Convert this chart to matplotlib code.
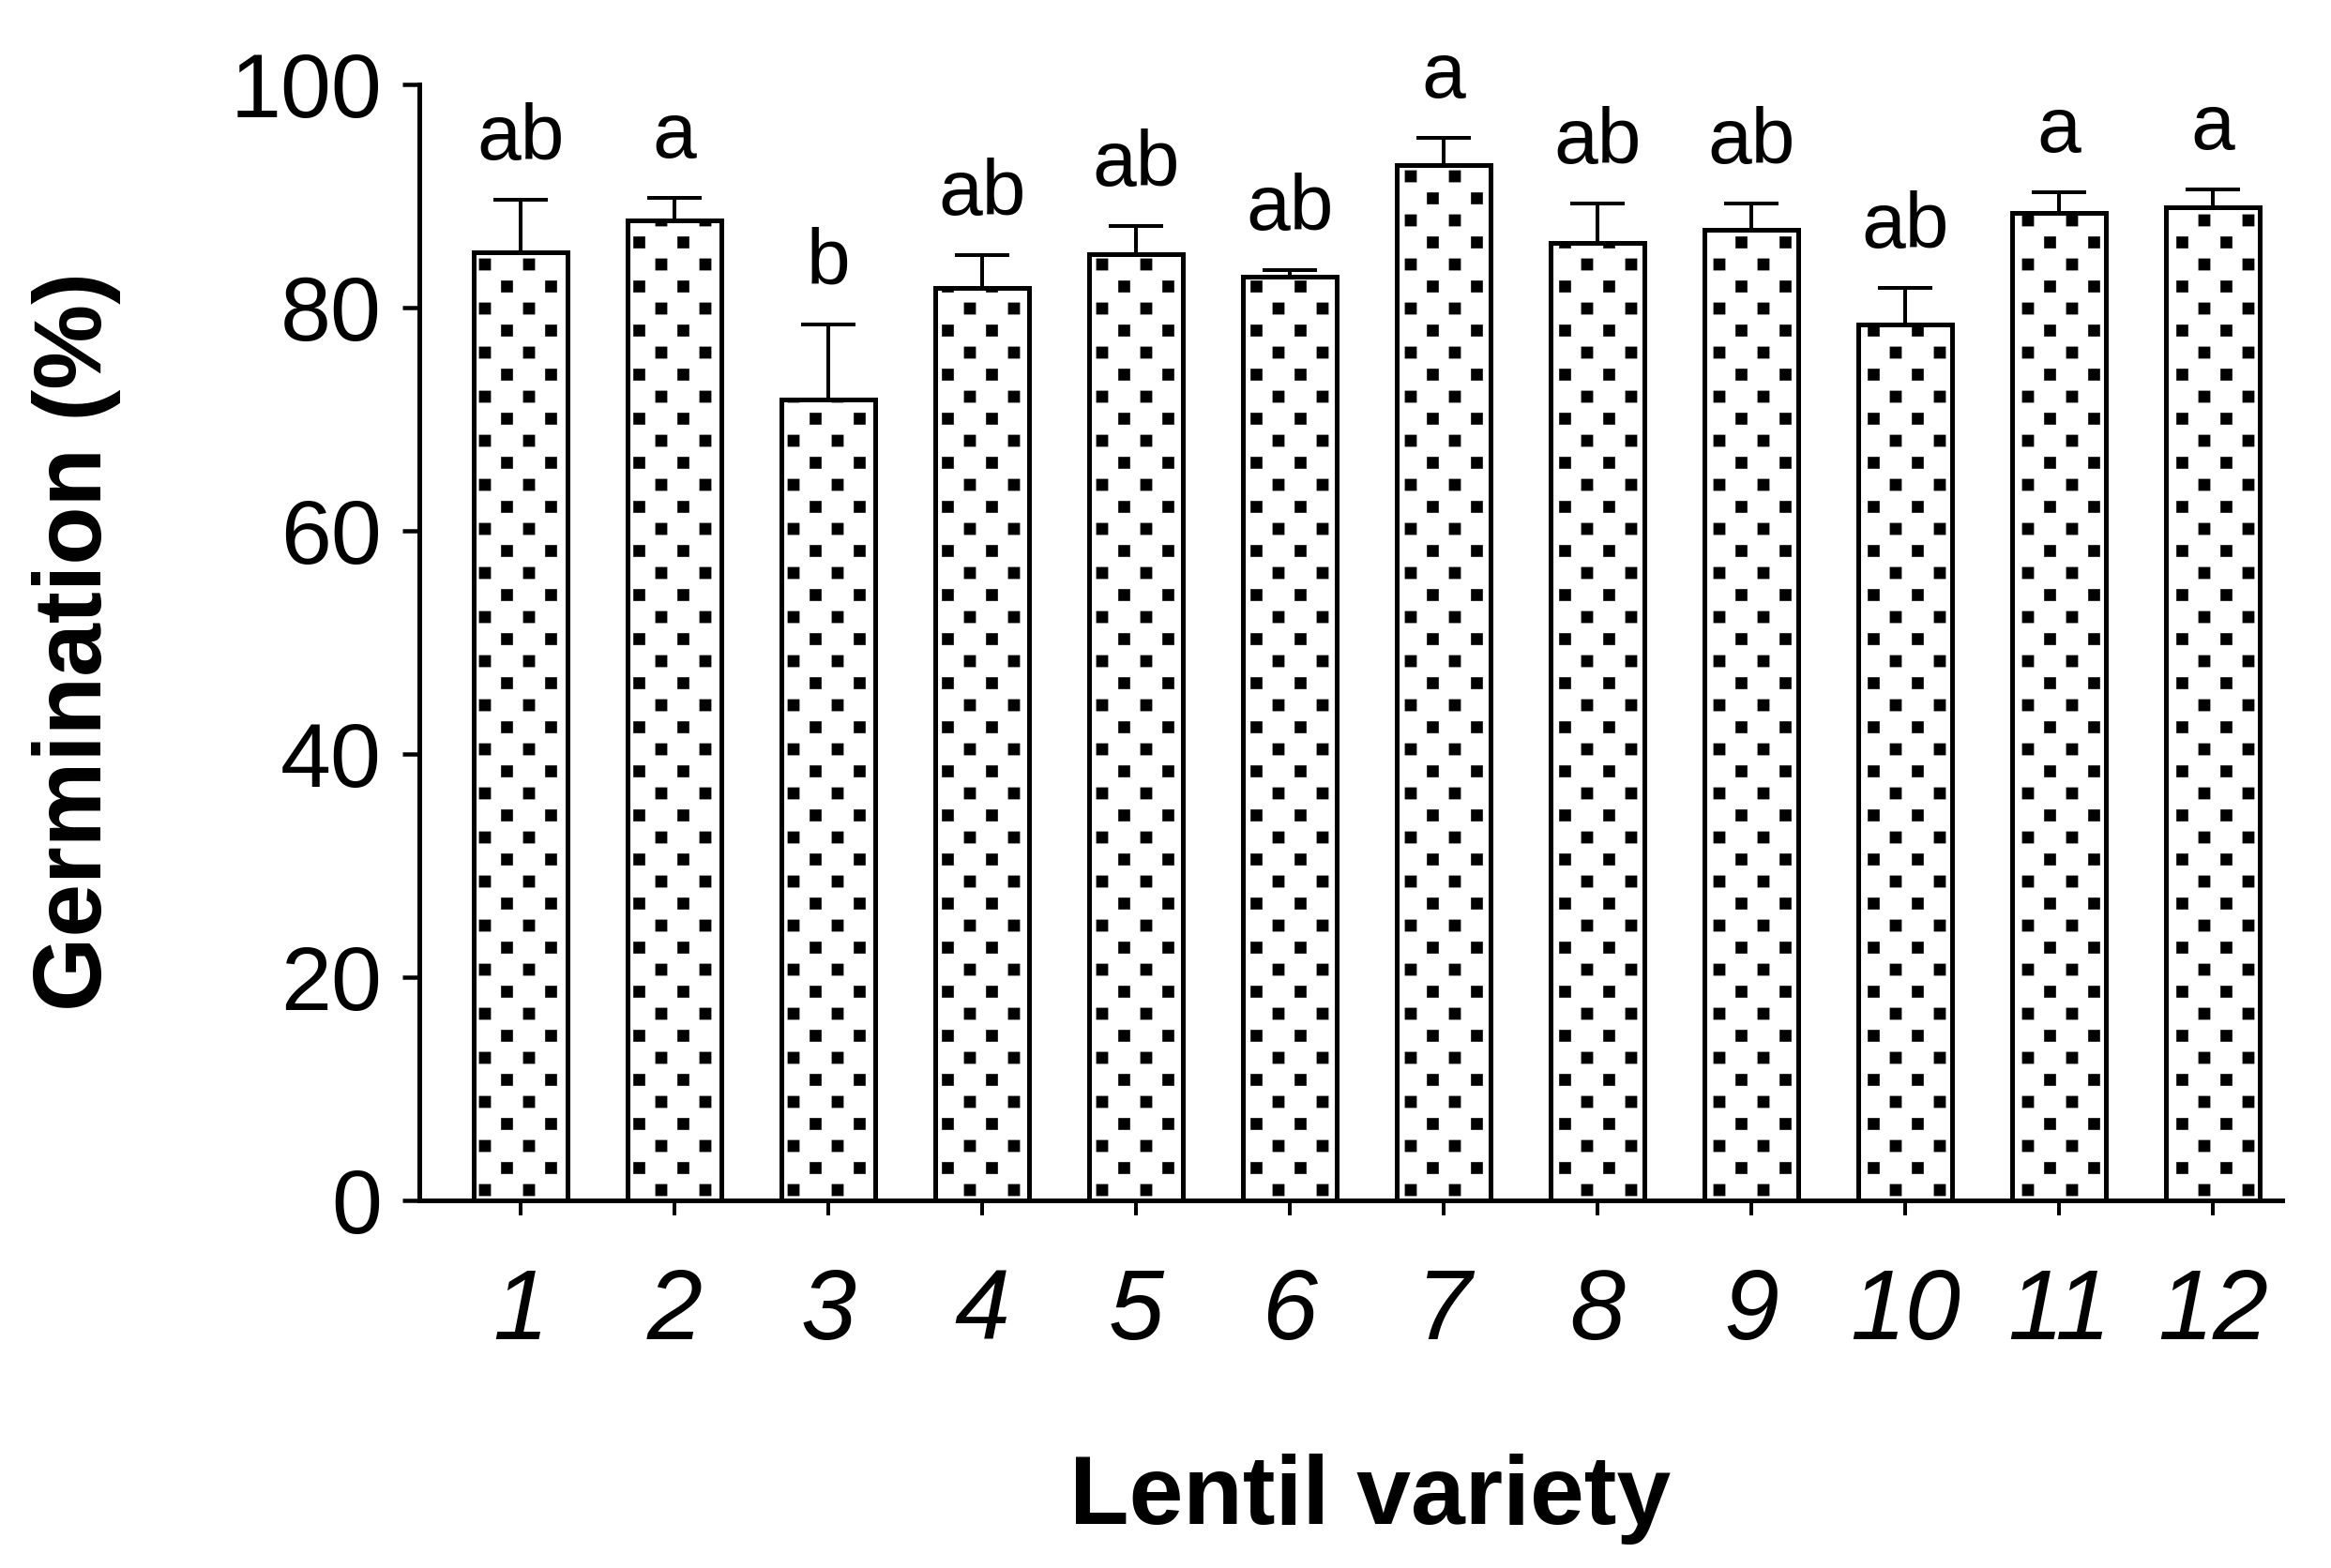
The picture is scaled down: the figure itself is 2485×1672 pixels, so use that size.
import numpy as np
import matplotlib
matplotlib.use('Agg')
import matplotlib.pyplot as plt
import matplotlib.hatch as mhatch
from matplotlib.path import Path

# ---------------- data ----------------
varieties = ['1', '2', '3', '4', '5', '6', '7', '8', '9', '10', '11', '12']
germination = [85.0, 87.8, 71.8, 81.8, 84.8, 82.8, 92.8, 85.8, 87.0, 78.5, 88.5, 89.0]
sem = [4.7, 2.0, 6.7, 2.9, 2.5, 0.6, 2.4, 3.5, 2.3, 3.3, 1.8, 1.6]
letters = ['ab', 'a', 'b', 'ab', 'ab', 'ab', 'a', 'ab', 'ab', 'ab', 'a', 'a']
yticks = [0, 20, 40, 60, 80, 100]

DPI = 94
W, H = 2485, 1672


def px(v):
    """pixels -> points"""
    return v * 72.0 / DPI


# square staggered dot hatch (replaces the round filled-dot '.' hatch)
class SquareDots:
    half = 6.3 / DPI

    def __init__(self, hatch, density):
        centers = []
        if hatch.count('.') > 0:
            for r in range(5):
                y = r * 0.25
                xs = (0.0, 0.5, 1.0) if r % 2 == 0 else (0.25, 0.75)
                centers += [(xx, y) for xx in xs]
        self.centers = np.array(centers, float).reshape(-1, 2)
        self.num_vertices = len(self.centers) * 5

    def set_vertices_and_codes(self, vertices, codes):
        h = self.half
        sq = np.array([[-h, -h], [h, -h], [h, h], [-h, h], [-h, -h]])
        for i, c in enumerate(self.centers):
            vertices[5 * i:5 * i + 5] = sq + c
            codes[5 * i] = Path.MOVETO
            codes[5 * i + 1:5 * i + 4] = Path.LINETO
            codes[5 * i + 4] = Path.CLOSEPOLY


mhatch._hatch_types = [SquareDots if t is mhatch.SmallFilledCircles else t
                       for t in mhatch._hatch_types]

plt.rcParams['font.family'] = ['Liberation Sans', 'DejaVu Sans']
plt.rcParams['hatch.linewidth'] = 0.1
plt.rcParams['hatch.color'] = 'black'

fig = plt.figure(figsize=(W / DPI, H / DPI), dpi=DPI)
ax = fig.add_axes([447 / W, 1 - 1280 / H, (2433 - 447) / W, (1280 - 90) / H])

x = np.arange(1, len(varieties) + 1)
ax.bar(x, germination, width=0.61, color='white', edgecolor='black',
       linewidth=px(5), hatch='.', zorder=2)
ax.errorbar(x, germination, yerr=[np.zeros(len(x)), sem], fmt='none',
            ecolor='black', elinewidth=px(4), capsize=px(29), capthick=px(4),
            zorder=3)

for xi, m, e, lab in zip(x, germination, sem, letters):
    ax.annotate(lab, (xi, m + e), xytext=(0, px(43)), textcoords='offset points',
                ha='center', va='baseline', fontsize=px(84),
                annotation_clip=False)

ax.set_xlim(0.3415, 12.451)
ax.set_ylim(0, 100)
ax.set_yticks(yticks)
ax.set_xticks(x)
ax.set_xticklabels(varieties, fontstyle='italic', fontsize=px(106))
ax.tick_params(axis='y', labelsize=px(97), length=px(18), width=px(4.5),
               pad=px(22), direction='out')
ax.tick_params(axis='x', length=px(16), width=px(4), pad=px(55),
               direction='out')

for s in ['top', 'right']:
    ax.spines[s].set_visible(False)
for s in ['left', 'bottom']:
    ax.spines[s].set_linewidth(px(5))

fig.text(82 / W, 1 - 684 / H, 'Germination (%)', rotation=90, ha='center',
         va='center', fontsize=px(102), fontweight='bold')
fig.text(1461 / W, 1 - 1625 / H, 'Lentil variety', ha='center',
         va='baseline', fontsize=px(104), fontweight='bold')

fig.savefig('out.png', dpi=DPI, facecolor='white')
